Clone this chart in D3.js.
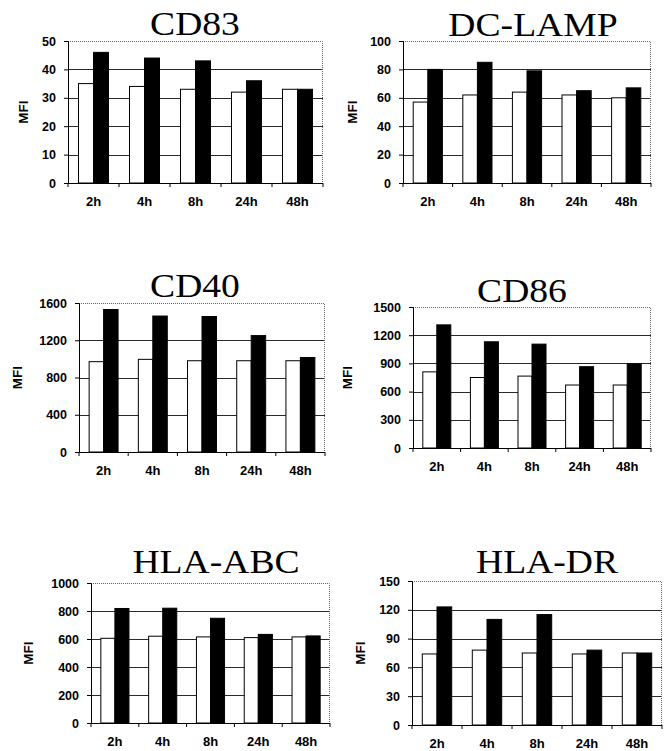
<!DOCTYPE html>
<html>
<head>
<meta charset="utf-8">
<script src="https://cdn.jsdelivr.net/npm/d3@7"></script>
<style>
  body { margin: 0; background: #fff; }
  svg { display: block; }
</style>
</head>
<body>
<div id="chart"></div>
<script>
// time points on the x axis
var times = ["2h", "4h", "8h", "24h", "48h"];

// white bars (control) and black bars (treated), MFI values
var cd83Ctrl = [35, 34, 33, 32, 33];
var cd83Treat = [46, 44, 43, 36, 33];
var dcLampCtrl = [57, 62, 64, 62, 60];
var dcLampTreat = [80, 85, 79, 65, 67];
var cd40Ctrl = [970, 995, 980, 980, 980];
var cd40Treat = [1530, 1460, 1455, 1250, 1015];
var cd86Ctrl = [810, 750, 765, 670, 670];
var cd86Treat = [1310, 1130, 1105, 865, 895];
var hlaAbcCtrl = [605, 620, 615, 610, 615];
var hlaAbcTreat = [818, 820, 748, 633, 622];
var hlaDrCtrl = [74, 78, 75, 74, 75];
var hlaDrTreat = [123, 110, 115, 78, 75];

// y tick labels
var cd83Ticks = [0, 10, 20, 30, 40, 50];
var dcLampTicks = [0, 20, 40, 60, 80, 100];
var cd40Ticks = [0, 400, 800, 1200, 1600];
var cd86Ticks = [0, 300, 600, 900, 1200, 1500];
var hlaAbcTicks = [0, 200, 400, 600, 800, 1000];
var hlaDrTicks = [0, 30, 60, 90, 120, 150];

var titles = ["CD83", "DC-LAMP", "CD40", "CD86", "HLA-ABC", "HLA-DR"];

// panel placement on the page
var panels = [
    {ctrl: cd83Ctrl, treat: cd83Treat, ticks: cd83Ticks, left: 68, right: 323, top: 41, bottom: 183, tx: 195, ty: 35, mx: 23},
    {ctrl: dcLampCtrl, treat: dcLampTreat, ticks: dcLampTicks, left: 403, right: 651, top: 41, bottom: 183, tx: 533, ty: 36, mx: 352},
    {ctrl: cd40Ctrl, treat: cd40Treat, ticks: cd40Ticks, left: 79, right: 325, top: 303, bottom: 452, tx: 195, ty: 297, mx: 17},
    {ctrl: cd86Ctrl, treat: cd86Treat, ticks: cd86Ticks, left: 413, right: 651, top: 307, bottom: 448, tx: 522, ty: 302, mx: 347},
    {ctrl: hlaAbcCtrl, treat: hlaAbcTreat, ticks: hlaAbcTicks, left: 91, right: 330, top: 583, bottom: 723, tx: 216, ty: 573, mx: 28},
    {ctrl: hlaDrCtrl, treat: hlaDrTreat, ticks: hlaDrTicks, left: 412, right: 662, top: 581, bottom: 725, tx: 547, ty: 573, mx: 360}
];

var svg = d3.select("#chart")
    .append("svg")
    .attr("width", 667)
    .attr("height", 751);

var sans = "'Liberation Sans', Arial, sans-serif";

panels.forEach(function (p, k) {
    var width = p.right - p.left;
    var height = p.bottom - p.top;
    var g = svg.append("g")
        .attr("transform", "translate(" + p.left + "," + p.top + ")");

    var x0 = d3.scaleBand().domain(times).range([0, width]);
    var x1 = d3.scaleBand().domain(["ctrl", "treat"])
        .range([0, x0.bandwidth()])
        .paddingInner(0)
        .paddingOuter(0.7);
    var y = d3.scaleLinear()
        .domain([0, d3.max(p.ticks)])
        .range([height, 0]);

    // gridlines behind bars
    g.selectAll(".grid")
        .data(p.ticks.slice(1, -1))
        .enter()
        .append("line")
        .attr("x1", 0)
        .attr("x2", width)
        .attr("y1", function (d) { return Math.round(y(d)) + 0.5; })
        .attr("y2", function (d) { return Math.round(y(d)) + 0.5; })
        .attr("stroke", "#2a2a2a")
        .attr("stroke-width", 1);

    // dotted frame top and right
    g.append("path")
        .attr("d", "M0,0.5H" + (width - 0.5) + "V" + height)
        .attr("fill", "none")
        .attr("stroke", "#666")
        .attr("stroke-dasharray", "1,1");

    var rows = times.map(function (t, i) {
        return {t: t, ctrl: p.ctrl[i], treat: p.treat[i]};
    });

    var grp = g.selectAll(".grp")
        .data(rows)
        .enter()
        .append("g")
        .attr("transform", function (d) { return "translate(" + x0(d.t) + ",0)"; });

    grp.append("rect")
        .attr("x", x1("ctrl"))
        .attr("y", function (d) { return y(d.ctrl); })
        .attr("width", x1.bandwidth())
        .attr("height", function (d) { return height - y(d.ctrl); })
        .attr("fill", "#fff")
        .attr("stroke", "#000")
        .attr("stroke-width", 1);

    grp.append("rect")
        .attr("x", x1("treat"))
        .attr("y", function (d) { return y(d.treat); })
        .attr("width", x1.bandwidth())
        .attr("height", function (d) { return height - y(d.treat); })
        .attr("fill", "#000")
        .attr("stroke", "#000")
        .attr("stroke-width", 1);

    // y axis
    var yAxis = d3.axisLeft(y)
        .tickValues(p.ticks)
        .tickSize(4)
        .tickPadding(8)
        .tickFormat(d3.format("d"));
    var yg = g.append("g").call(yAxis);
    yg.select(".domain").attr("stroke", "#000");
    yg.selectAll("text")
        .attr("font-family", sans)
        .attr("font-weight", "bold")
        .attr("font-size", "12.5px")
        .attr("fill", "#000");

    // x axis, ticks at band edges
    var edges = times.map(function (t) { return x0(t); }).concat([width]);
    var xg = g.append("g").attr("transform", "translate(0," + height + ")");
    xg.append("line")
        .attr("x1", 0).attr("x2", width)
        .attr("y1", 0.5).attr("y2", 0.5)
        .attr("stroke", "#000");
    xg.selectAll(".tk")
        .data(edges)
        .enter()
        .append("line")
        .attr("x1", function (d) { return d; })
        .attr("x2", function (d) { return d; })
        .attr("y1", 0).attr("y2", 4)
        .attr("stroke", "#000");
    xg.selectAll(".lbl")
        .data(times)
        .enter()
        .append("text")
        .attr("x", function (d) { return x0(d) + x0.bandwidth() / 2; })
        .attr("y", 23)
        .attr("text-anchor", "middle")
        .attr("font-family", sans)
        .attr("font-weight", "bold")
        .attr("font-size", "13px")
        .text(function (d) { return d; });

    // MFI label
    svg.append("text")
        .attr("transform", "translate(" + (p.mx + 5) + "," + (p.top + height / 2) + ") rotate(-90)")
        .attr("text-anchor", "middle")
        .attr("font-family", sans)
        .attr("font-weight", "bold")
        .attr("font-size", "13.5px")
        .text("MFI");

    // title, serif and a bit wide
    svg.append("text")
        .attr("transform", "translate(" + p.tx + "," + p.ty + ") scale(1.14,1)")
        .attr("text-anchor", "middle")
        .attr("font-family", "'Liberation Serif', 'Times New Roman', serif")
        .attr("font-size", "33px")
        .text(titles[k]);
});
</script>
</body>
</html>
